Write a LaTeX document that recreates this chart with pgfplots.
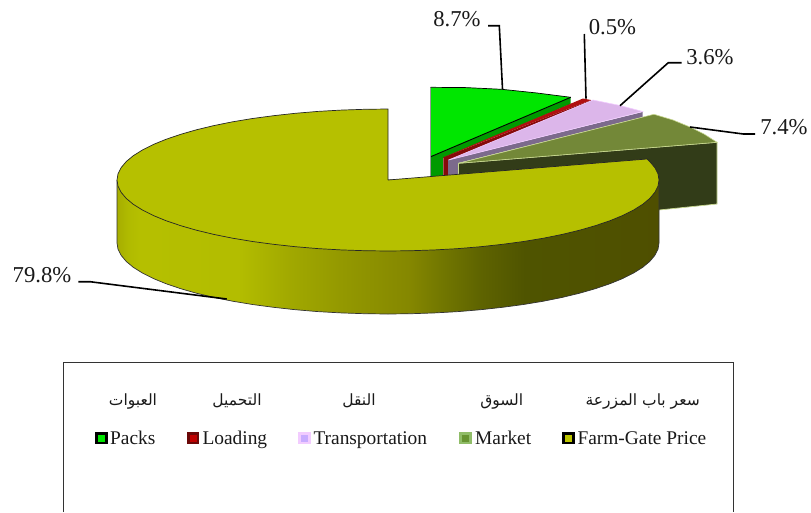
\documentclass[border=0pt]{standalone}
\usepackage{fontspec}
\usepackage{xcolor}
\usepackage{pgfplots}
\pgfplotsset{compat=1.18}
\setmainfont{Liberation Serif}
\newfontfamily\arabicfont[Script=Arabic]{DejaVu Sans}
\TeXXeTstate=1

\definecolor{packs}{HTML}{00E600}
\definecolor{packswall}{HTML}{009A00}
\definecolor{loadtop}{HTML}{B01010}
\definecolor{loadwall}{HTML}{860A0A}
\definecolor{transtop}{HTML}{DCB6EA}
\definecolor{transwall}{HTML}{7C6A8C}
\definecolor{transedge}{HTML}{F2CCFF}
\definecolor{markettop}{HTML}{738838}
\definecolor{marketwall}{HTML}{323C18}
\definecolor{marketedge}{HTML}{C8D890}
\definecolor{farmtop}{HTML}{B6C000}

% side wall of the big slice, shaded left to right (25bp..75bp = its width)
\pgfdeclarehorizontalshading{farmwall}{100bp}{
  rgb(0bp)=(0.65,0.68,0);
  rgb(25bp)=(0.65,0.68,0);
  rgb(26bp)=(0.69,0.73,0);
  rgb(27.1bp)=(0.71,0.75,0);
  rgb(36.3bp)=(0.70,0.74,0);
  rgb(41bp)=(0.63,0.66,0);
  rgb(45.6bp)=(0.58,0.60,0);
  rgb(52bp)=(0.52,0.53,0);
  rgb(54.8bp)=(0.45,0.47,0);
  rgb(58.5bp)=(0.37,0.39,0);
  rgb(62.6bp)=(0.31,0.33,0);
  rgb(75bp)=(0.31,0.31,0);
  rgb(100bp)=(0.31,0.31,0)}

\newcommand{\lbl}[3]{\node[text=black!90] at (axis cs:#1,#2) {\fontsize{22.7}{27}\selectfont #3};}
\newcommand{\leg}[2]{\node[anchor=base west,inner sep=0pt,text=black!90] at (axis cs:#1,444.2) {\fontsize{19.4}{23}\selectfont #2};}
\newcommand{\arsize}{\fontsize{15.5}{18}\selectfont\arabicfont}
\pgfplotsset{leader/.style={black, line width=1.6pt},
  key/.style={only marks, mark=square*, mark size=4.9pt, mark options={solid, line width=2.8pt, #1}}}

\begin{document}
\begin{tikzpicture}
\useasboundingbox (0,0) rectangle (811pt,512pt);
\begin{axis}[
  width=811pt, height=512pt, scale only axis, at={(0,0)}, anchor=south west,
  xmin=0, xmax=811, ymin=0, ymax=512, y dir=reverse,
  hide axis,
]
% Packs
\addplot[fill=packswall, draw=none] coordinates {(430.7,156.7) (570.7,97.3) (570.7,104) (443,158) (443,180) (430.7,180) (430.7,156.7)};
\addplot[fill=packs, draw=none] coordinates {(430.7,87.3) (466,87.6) (501.7,89.3) (537,93) (570.7,97.3) (430.7,156.7) (430.7,87.3)};
\addplot[draw=black, line width=0.9pt] coordinates {(430.7,156.7) (570.7,97.3)};
\addplot[draw=black!40, line width=0.8pt] coordinates {(430.3,87.3) (430.3,178)};
\addplot[draw=black, line width=0.7pt] coordinates {(430.7,87.3) (466,87.6) (501.7,89.3) (537,93) (570.7,97.3)};
% Loading
\addplot[fill=loadwall, draw=none] coordinates {(443.3,157.3) (591,100) (591,103) (448,162) (448,180) (443.3,180) (443.3,157.3)};
\addplot[fill=loadtop, draw=none] coordinates {(443.3,157.3) (583,98.5) (591,100) (443.3,157.3)};
% Transportation
\addplot[fill=transwall, draw=none] coordinates {(448,160) (642.7,112) (642.7,117) (458,163) (458,180) (448,180) (448,160)};
\addplot[fill=transtop, draw=transedge, line width=0.6pt] coordinates {(448.5,160) (593,100) (620,105.5) (642.7,111.5) (448.5,160)};
% Market
\addplot[fill=marketwall, draw=marketedge, line width=0.7pt] coordinates {(458.5,163.3) (717,142.3) (717,204) (659,210) (458.5,228) (458.5,163.3)};
\addplot[fill=markettop, draw=marketedge, line width=0.6pt] coordinates {(458.5,163.3) (654,114.3) (673,120) (690,127) (704,134) (717,142.3) (458.5,163.3)};
% Farm-gate price: side wall, then top
\addplot[shade, shading=farmwall, draw=black!80, line width=0.7pt] coordinates {
  (117,180) (117,243) (118,249.2) (121.1,255.3) (126.2,261.4) (133.3,267.3) (142.4,273) (153.3,278.5)
  (166,283.7) (180.4,288.6) (196.4,293.2) (213.8,297.4) (232.6,301.2) (252.5,304.5) (273.5,307.3)
  (295.3,309.7) (317.9,311.6) (341,312.9) (364.4,313.7) (388,314) (411.6,313.7) (435,312.9) (458.1,311.6)
  (480.7,309.7) (502.5,307.3) (523.5,304.5) (543.4,301.2) (562.2,297.4) (579.6,293.2) (595.6,288.6)
  (610,283.7) (622.7,278.5) (633.6,273) (642.7,267.3) (649.8,261.4) (654.9,255.3) (658,249.2) (659,243)
  (659,180) (117,180)};
\addplot[fill=farmtop, draw=black!85, line width=0.7pt] coordinates {
  (388,180) (388,109) (364.4,109.3) (341,110.1) (317.9,111.4) (295.3,113.3) (273.5,115.7) (252.5,118.5)
  (232.6,121.8) (213.8,125.6) (196.4,129.8) (180.4,134.4) (166,139.3) (153.3,144.5) (142.4,150)
  (133.3,155.7) (126.2,161.6) (121.1,167.7) (118,173.8) (117,180) (118,186.2) (121.1,192.3) (126.2,198.4)
  (133.3,204.3) (142.4,210) (153.3,215.5) (166,220.7) (180.4,225.6) (196.4,230.2) (213.8,234.4)
  (232.6,238.2) (252.5,241.5) (273.5,244.3) (295.3,246.7) (317.9,248.6) (341,249.9) (364.4,250.7) (388,251)
  (411.6,250.7) (435,249.9) (458.1,248.6) (480.7,246.7) (502.5,244.3) (523.5,241.5) (543.4,238.2)
  (562.2,234.4) (579.6,230.2) (595.6,225.6) (610,220.7) (622.7,215.5) (633.6,210) (642.7,204.3)
  (649.8,198.4) (654.9,192.3) (658,186.2) (659,180) (658,173.8) (654.9,167.7) (649.8,161.6) (647,159) (388,180)};
% leader lines
\addplot[leader] coordinates {(488,25.7) (499.3,25.7) (502.5,89)};
\addplot[leader] coordinates {(584.3,34) (586,98.7)};
\addplot[leader] coordinates {(681.7,62.7) (668.3,62.7) (620,105.7)};
\addplot[leader] coordinates {(690,127) (743.3,134) (755,134)};
\addplot[leader] coordinates {(78.3,281.7) (90,281.7) (226.7,299)};
% legend frame
\addplot[draw=black!80, line width=0.8pt] coordinates {(63,512) (63,362) (733,362) (733,512)};
% legend keys
\addplot[key={draw=black, fill=packs}] coordinates {(101.3,438)};
\addplot[key={draw=loadwall!80!black, fill=red!75!black}] coordinates {(193,438)};
\addplot[key={draw=transedge, fill=transedge!80!blue!90!white}] coordinates {(304.5,438)};
\addplot[key={draw=marketedge!85!green!85!black, fill=markettop!90!green}] coordinates {(465.5,438)};
\addplot[key={draw=black, fill=farmtop!90!yellow}] coordinates {(568.5,438)};
% text
\lbl{457}{19}{8.7\%}
\lbl{612.5}{27}{0.5\%}
\lbl{710}{57}{3.6\%}
\lbl{784}{127}{7.4\%}
\lbl{42}{275}{79.8\%}
\node[text=black!90] at (axis cs:133,401) {\arsize\beginR العبوات\endR};
\node[text=black!90] at (axis cs:237,401) {\arsize\beginR التحميل\endR};
\node[text=black!90] at (axis cs:359,401) {\arsize\beginR النقل\endR};
\node[text=black!90] at (axis cs:501.7,401) {\arsize\beginR السوق\endR};
\node[text=black!90] at (axis cs:642.7,401) {\arsize\beginR سعر باب المزرعة\endR};
\leg{110}{Packs}
\leg{202.3}{Loading}
\leg{313.3}{Transportation}
\leg{475}{Market}
\leg{577.3}{Farm-Gate Price}
\end{axis}
\end{tikzpicture}
\end{document}
